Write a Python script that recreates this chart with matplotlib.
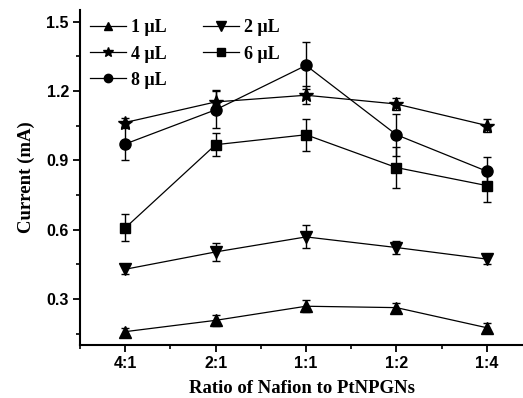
import matplotlib
matplotlib.use('Agg')
import matplotlib.pyplot as plt
from matplotlib.ticker import MultipleLocator

# Ratio categories
ratios = ['4:1', '2:1', '1:1', '1:2', '1:4']

# Current (mA) and error bars per Nafion volume
cur_1 = [0.158, 0.207, 0.268, 0.262, 0.175]
err_1 = [0.015, 0.025, 0.025, 0.02, 0.02]
cur_2 = [0.428, 0.503, 0.568, 0.522, 0.472]
err_2 = [0.02, 0.04, 0.05, 0.03, 0.02]
cur_4 = [1.063, 1.152, 1.181, 1.143, 1.050]
err_4 = [0.02, 0.05, 0.04, 0.025, 0.03]
cur_6 = [0.607, 0.967, 1.010, 0.868, 0.790]
err_6 = [0.058, 0.05, 0.07, 0.09, 0.07]
cur_8 = [0.970, 1.118, 1.310, 1.010, 0.852]
err_8 = [0.07, 0.08, 0.10, 0.09, 0.06]

labels = ['1 \u03bcL', '2 \u03bcL', '4 \u03bcL', '6 \u03bcL', '8 \u03bcL']
markers = ['^', 'v', '*', 's', 'o']
sizes = [8, 9, 10, 7, 8]

fig = plt.figure(figsize=(5.23, 3.98), dpi=100)
ax = fig.add_axes([0.153, 0.133, 0.847, 0.842])

x = range(1, len(ratios) + 1)
handles = []
for cur, err, lab, m, s in zip([cur_1, cur_2, cur_4, cur_6, cur_8],
                               [err_1, err_2, err_4, err_6, err_8],
                               labels, markers, sizes):
    ax.errorbar(x, cur, yerr=err, color='black', lw=0.9, elinewidth=1.0,
                capsize=3, capthick=1.0, zorder=2, fmt='none')
    h, = ax.plot(x, cur, color='black', lw=0.9, marker=m, markersize=s,
                 markerfacecolor='black', markeredgecolor='black', label=lab, zorder=3)
    handles.append(h)

ax.set_xlim(0.5, 5.4)
ax.set_ylim(0.1, 1.55)
ax.set_xticks(list(x))
ax.set_xticklabels(ratios)
ax.xaxis.set_minor_locator(MultipleLocator(0.5))
ax.yaxis.set_major_locator(MultipleLocator(0.3))
ax.yaxis.set_minor_locator(MultipleLocator(0.15))
ax.set_yticks([0.3, 0.6, 0.9, 1.2, 1.5])

for sp in ['top', 'right']:
    ax.spines[sp].set_visible(False)
for sp in ['left', 'bottom']:
    ax.spines[sp].set_linewidth(1.5)

ax.tick_params(which='major', direction='out', length=5, width=1.3, pad=3)
ax.tick_params(which='minor', direction='out', length=3, width=1.2)
for t in ax.get_xticklabels() + ax.get_yticklabels():
    t.set_fontfamily('Liberation Sans')
    t.set_fontweight('bold')
    t.set_fontsize(11.5)

ax.set_xlabel('Ratio of Nafion to PtNPGNs', fontfamily='Liberation Serif',
              fontweight='bold', fontsize=13.5, labelpad=6)
ax.set_ylabel('Current (mA)', fontfamily='Liberation Serif',
              fontweight='bold', fontsize=13.5, labelpad=8)

order = [0, 2, 4, 1, 3]
leg = ax.legend([handles[i] for i in order], [labels[i] for i in order],
                ncol=2, loc='upper left', bbox_to_anchor=(-0.015, 1.02),
                frameon=False, handlelength=2.0, columnspacing=2.0,
                labelspacing=0.5, handletextpad=0.3, markerscale=0.75,
                prop={'family': 'Liberation Serif', 'weight': 'bold', 'size': 13})

fig.savefig('out.png', dpi=100)
